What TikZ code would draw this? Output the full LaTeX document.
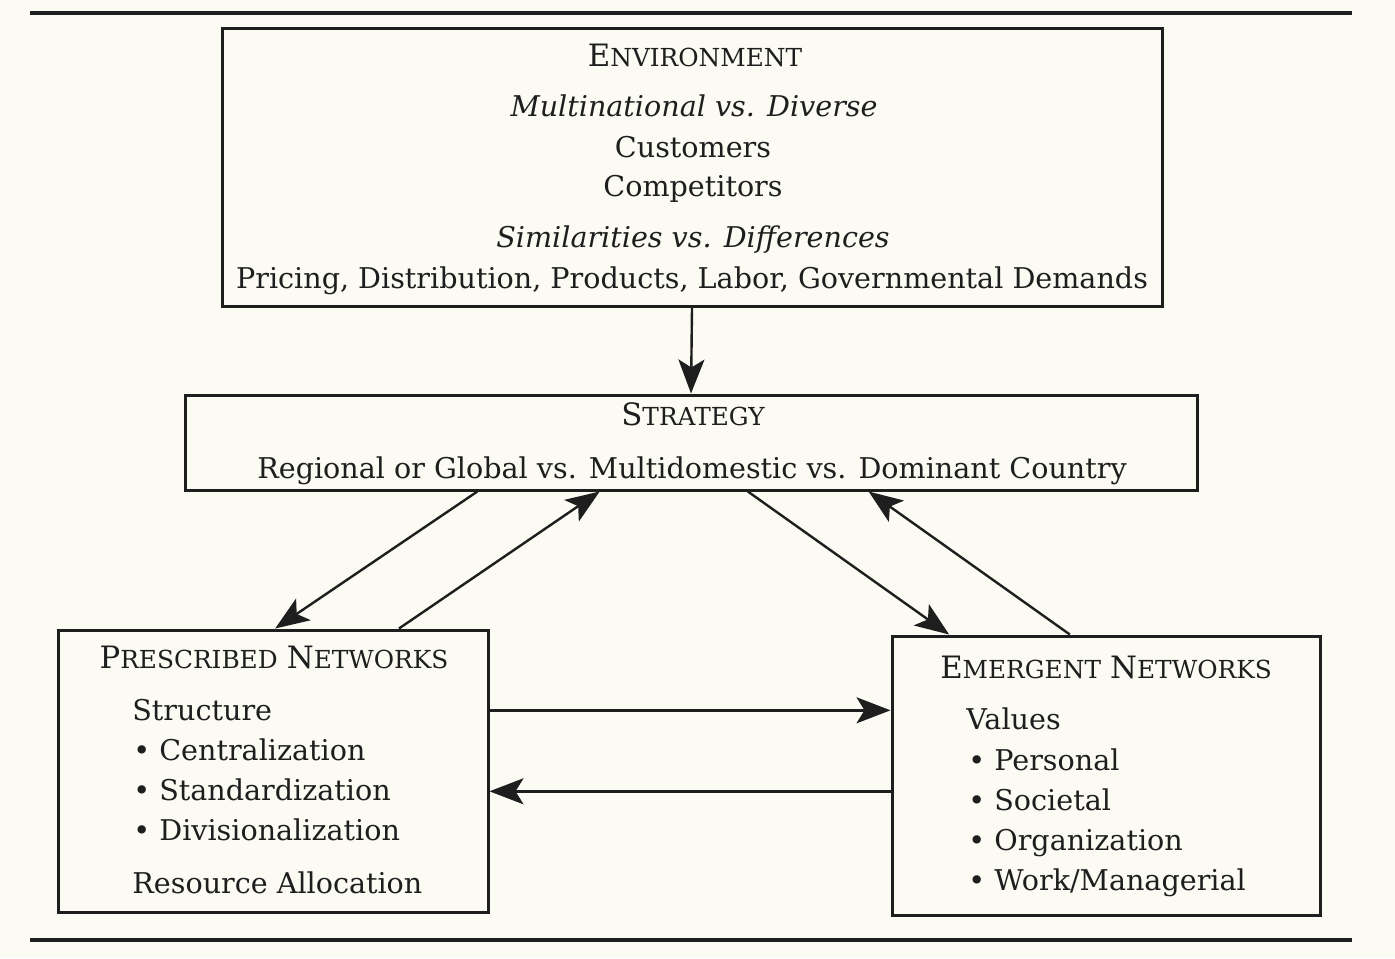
\documentclass[tikz,border=0pt]{standalone}
\usepackage{fontspec}
\setmainfont{DejaVu Serif}
\usetikzlibrary{arrows.meta,calc}
\definecolor{paper}{RGB}{251,250,243}
\definecolor{ink}{RGB}{30,30,30}
\newcommand\mysc[2]{{\fontsize{15.4}{17}\selectfont #1}{\fontsize{12.4}{14}\selectfont #2}}
\begin{document}
\begin{tikzpicture}[x=0.5pt,y=-0.5pt,
  box/.style={draw=ink,line width=1.5pt,inner sep=0pt,rectangle},
  txt/.style={inner sep=0pt,anchor=base,text=ink,font=\fontsize{14.3}{17}\selectfont},
  ltxt/.style={txt,anchor=base west},
  arr/.style={draw=ink,line width=1.2pt,-{Stealth[length=17pt,width=13pt,inset=4pt]}},
  rule/.style={draw=ink,line width=2pt}]
\fill[paper] (0,0) rectangle (1395,958);
\useasboundingbox (0,0) rectangle (1395,958);
% rules
\coordinate (tl) at (30,13); \coordinate (tr) at (1352,13);
\coordinate (bl) at (30,940); \coordinate (br) at (1352,940);
\draw[rule] (tl) -- (tr);
\draw[rule] (bl) -- (br);
% boxes
\node[box,minimum width=470pt,minimum height=139pt] (env) at (692,167) {};
\node[box,minimum width=506pt,minimum height=47.5pt] (strat) at (691,442.5) {};
\node[box,minimum width=215pt,minimum height=141pt] (pre) at (273,771) {};
\node[box,minimum width=214pt,minimum height=139.5pt] (emer) at (1106,775.5) {};
% environment text
\node[txt] (t1) at (695,66) {\mysc{E}{NVIRONMENT}};
\node[txt] (t2) at (694,116) {\textit{Multinational vs. Diverse}};
\node[txt] (t3) at (693,157) {Customers};
\node[txt] (t4) at (693,196) {Competitors};
\node[txt] (t5) at (693,247) {\textit{Similarities vs. Differences}};
\node[txt] (t6) at (692,288) {Pricing, Distribution, Products, Labor, Governmental Demands};
% strategy text
\node[txt] (s1) at (693,425) {\mysc{S}{TRATEGY}};
\node[txt] (s2) at (692,478) {Regional or Global vs. Multidomestic vs. Dominant Country};
% prescribed
\node[txt] (p0) at (274,668) {\mysc{P}{RESCRIBED} \mysc{N}{ETWORKS}};
\node[ltxt] (p1) at (132,720) {Structure};
\node[ltxt] (p2) at (133,760) {\textbullet\ Centralization};
\node[ltxt] (p3) at (133,800) {\textbullet\ Standardization};
\node[ltxt] (p4) at (133,840) {\textbullet\ Divisionalization};
\node[ltxt] (p5) at (132,893) {Resource Allocation};
% emergent
\node[txt] (e0) at (1106,678) {\mysc{E}{MERGENT} \mysc{N}{ETWORKS}};
\node[ltxt] (e1) at (966,729) {Values};
\node[ltxt] (e2) at (968,770) {\textbullet\ Personal};
\node[ltxt] (e3) at (968,810) {\textbullet\ Societal};
\node[ltxt] (e4) at (968,850) {\textbullet\ Organization};
\node[ltxt] (e5) at (968,890) {\textbullet\ Work/Managerial};
% connectors
\draw[arr] (env.south) -- (strat.north);
\draw[arr] ($(strat.south west)!0.2895!(strat.south east)$) -- ($(pre.north west)!0.505!(pre.north east)$);
\draw[arr] ($(pre.north west)!0.791!(pre.north east)$) -- ($(strat.south west)!0.41!(strat.south east)$);
\draw[arr] ($(strat.south west)!0.556!(strat.south east)$) -- ($(emer.north west)!0.136!(emer.north east)$);
\draw[arr] ($(emer.north west)!0.416!(emer.north east)$) -- ($(strat.south west)!0.675!(strat.south east)$);
\draw[arr] ($(pre.north east)!0.287!(pre.south east)$) coordinate (h1) -- (h1 -| emer.west);
\draw[arr] ($(emer.north west)!0.556!(emer.south west)$) coordinate (h2) -- (h2 -| pre.east);
\end{tikzpicture}
\end{document}
